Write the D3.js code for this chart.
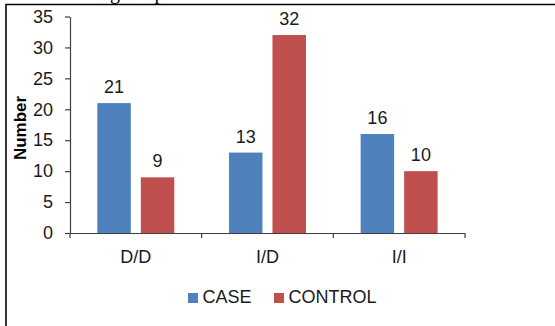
<!DOCTYPE html>
<html>
<head>
<meta charset="utf-8">
<script src="https://cdn.jsdelivr.net/npm/d3@7"></script>
<style>
  html, body { margin: 0; padding: 0; background: #fff; }
  svg { display: block; }
  text { font-family: "Liberation Sans", Arial, sans-serif; fill: #1a1a1a; }
</style>
</head>
<body>
<svg id="chart" width="555" height="326"></svg>
<script>
// Genotype counts per group
const categories = ["D/D", "I/D", "I/I"];
const seriesNames = ["CASE", "CONTROL"];
const caseValues = [21, 13, 16];
const controlValues = [9, 32, 10];
const yTicks = [0, 5, 10, 15, 20, 25, 30, 35];
const colors = ["#4F81BD", "#C0504D"];

const svg = d3.select("#chart");

// Frame (top and left rules) with the tail of the caption above it
const caption = svg.append("text")
  .attr("y", -1)
  .style("font-family", "'Liberation Serif', 'Times New Roman', serif")
  .style("font-size", "20px")
  .style("fill", "#000")
  .text("Bar chart showing the prevalence of case and control");
const gIndex = caption.text().indexOf("g");
const gX = caption.node().getStartPositionOfChar(gIndex).x;
caption.attr("x", 110 - gX);

svg.append("path")
  .attr("d", "M6,326V4.5H555")
  .attr("fill", "none")
  .attr("stroke", "#000")
  .attr("stroke-width", 1.6);

const x = d3.scaleBand().domain(categories).range([70, 465]);
const xInner = d3.scaleBand().domain(seriesNames).range([27.3, 104.3]).paddingInner(0.23);
const y = d3.scaleLinear().domain([0, 35]).range([233, 16.5]);

// Y axis
const yAxis = svg.append("g")
  .attr("transform", "translate(70,0)")
  .call(d3.axisLeft(y).tickValues(yTicks).tickSize(5).tickSizeOuter(0).tickPadding(12));
yAxis.select(".domain").attr("stroke", "#404040").attr("stroke-width", 1.2);
yAxis.selectAll(".tick line").attr("stroke", "#404040").attr("stroke-width", 1.2);
yAxis.selectAll(".tick text")
  .style("font-family", "'Liberation Sans', Arial, sans-serif")
  .style("font-size", "18px")
  .attr("fill", "#1a1a1a");

// X axis: baseline, boundary ticks between categories, centred labels
const xAxis = svg.append("g")
  .attr("transform", "translate(0,233)")
  .call(d3.axisBottom(x).tickSize(0).tickSizeOuter(0).tickPadding(12));
xAxis.select(".domain").attr("stroke", "#404040").attr("stroke-width", 1.2);
xAxis.selectAll(".tick text")
  .attr("dy", null)
  .attr("y", 29.5)
  .style("font-family", "'Liberation Sans', Arial, sans-serif")
  .style("font-size", "18px")
  .attr("fill", "#1a1a1a");
const bounds = categories.map(c => x(c)).concat([x(categories[categories.length - 1]) + x.bandwidth()]);
xAxis.selectAll(".bound")
  .data(bounds)
  .join("line")
  .attr("class", "bound")
  .attr("x1", d => d).attr("x2", d => d)
  .attr("y1", 0).attr("y2", 5)
  .attr("stroke", "#404040").attr("stroke-width", 1.2);

// Y axis title
svg.append("text")
  .attr("transform", "translate(26,128) rotate(-90)")
  .attr("text-anchor", "middle")
  .style("font-size", "17px")
  .style("font-weight", "bold")
  .style("fill", "#000")
  .text("Number");

// Bars and value labels
const rows = categories.map((c, i) => ({ cat: c, vals: [caseValues[i], controlValues[i]] }));
const groups = svg.append("g").selectAll("g")
  .data(rows)
  .join("g")
  .attr("transform", d => `translate(${x(d.cat)},0)`);

const items = groups.selectAll("g")
  .data(d => d.vals.map((v, j) => ({ name: seriesNames[j], v, j })))
  .join("g");

items.append("rect")
  .attr("x", d => xInner(d.name))
  .attr("y", d => y(d.v))
  .attr("width", xInner.bandwidth())
  .attr("height", d => y(0) - y(d.v))
  .attr("fill", d => colors[d.j]);

items.append("text")
  .attr("x", d => xInner(d.name) + xInner.bandwidth() / 2)
  .attr("y", d => y(d.v) - 10)
  .attr("text-anchor", "middle")
  .style("font-size", "18px")
  .text(d => d.v);

// Legend
const legendX = [188, 274];
const legend = svg.append("g").selectAll("g")
  .data(seriesNames)
  .join("g")
  .attr("transform", (d, i) => `translate(${legendX[i]},293)`);
legend.append("rect")
  .attr("width", 10).attr("height", 10)
  .attr("fill", (d, i) => colors[i]);
legend.append("text")
  .attr("x", 14.5)
  .attr("y", 10)
  .style("font-size", "18px")
  .text(d => d);
</script>
</body>
</html>
